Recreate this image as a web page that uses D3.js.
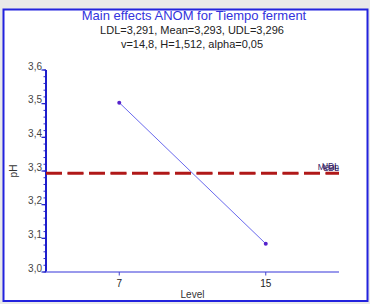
<!DOCTYPE html>
<html>
<head>
<meta charset="utf-8">
<script src="https://cdn.jsdelivr.net/npm/d3@7"></script>
<style>
    html, body { margin: 0; padding: 0; background: #e9e9e9; }
    svg { display: block; }
    text { font-family: "Liberation Sans", Arial, sans-serif; }
</style>
</head>
<body>
<div class="chart"></div>
<script>
// data
const titleLines = [
    'Main effects ANOM for Tiempo ferment',
    'LDL=3,291, Mean=3,293, UDL=3,296',
    'v=14,8, H=1,512, alpha=0,05'
];
const levels = [7, 15];
const means = [3.503, 3.084];
const limitNames = ['LDL', 'Mean', 'UDL'];
const limitValues = [3.291, 3.293, 3.296];
const yTicks = [3.0, 3.1, 3.2, 3.3, 3.4, 3.5, 3.6];
const yMinorTicks = d3.range(3.0, 3.6001, 0.02);
const xTicks = [7, 15];
const xDomain = [3, 19];
const yDomain = [3.0, 3.6];

const width = 370;
const height = 304;
const margin = { top: 70, right: 31, bottom: 32, left: 46 };
const fmt = d => d.toFixed(1).replace('.', ',');

const svg = d3.select('.chart')
    .append('svg')
    .attr('width', width)
    .attr('height', height);

// frame
svg.append('rect')
    .attr('x', 3.5)
    .attr('y', 9.5)
    .attr('width', 364)
    .attr('height', 291.5)
    .attr('fill', '#fff')
    .attr('stroke', '#2222dd')
    .attr('stroke-width', 2);

// titles
svg.append('text')
    .attr('x', 194)
    .attr('y', 20)
    .attr('text-anchor', 'middle')
    .style('font-size', '13px')
    .style('fill', '#3333dd')
    .text(titleLines[0]);

svg.selectAll('.sub')
    .data(titleLines.slice(1))
    .enter().append('text')
    .attr('class', 'sub')
    .attr('x', 192)
    .attr('y', (d, i) => 34 + i * 14)
    .attr('text-anchor', 'middle')
    .style('font-size', '11px')
    .style('fill', '#222')
    .text(d => d);

const x = d3.scaleLinear()
    .domain(xDomain)
    .range([margin.left, width - margin.right]);

const y = d3.scaleLinear()
    .domain(yDomain)
    .range([height - margin.bottom, margin.top]);

// y axis
const yAxis = svg.append('g')
    .attr('transform', `translate(${margin.left},0)`);

yAxis.selectAll('.minor')
    .data(yMinorTicks)
    .enter().append('line')
    .attr('x1', -2.5)
    .attr('x2', 0)
    .attr('y1', d => y(d))
    .attr('y2', d => y(d))
    .attr('stroke', '#3333cc')
    .attr('stroke-width', 1);

yAxis.selectAll('.major')
    .data(yTicks)
    .enter().append('line')
    .attr('x1', -4.5)
    .attr('x2', 0)
    .attr('y1', d => y(d))
    .attr('y2', d => y(d))
    .attr('stroke', '#2222cc')
    .attr('stroke-width', 1.2);

yAxis.selectAll('.lab')
    .data(yTicks)
    .enter().append('text')
    .attr('x', -4)
    .attr('y', d => y(d))
    .attr('dy', '-0.5px')
    .attr('text-anchor', 'end')
    .style('font-size', '10px')
    .style('fill', '#444')
    .text(fmt);

yAxis.append('line')
    .attr('x1', 0)
    .attr('x2', 0)
    .attr('y1', y(yDomain[1]))
    .attr('y2', y(yDomain[0]))
    .attr('stroke', '#1e1ecc')
    .attr('stroke-width', 2);

svg.append('text')
    .attr('transform', `translate(17, ${(y(yDomain[0]) + y(yDomain[1])) / 2}) rotate(-90)`)
    .attr('text-anchor', 'middle')
    .style('font-size', '10px')
    .style('fill', '#333')
    .text('pH');

// x axis
const xAxis = svg.append('g')
    .attr('transform', `translate(0,${y(yDomain[0])})`);

xAxis.append('line')
    .attr('x1', x(xDomain[0]))
    .attr('x2', x(xDomain[1]))
    .attr('stroke', '#7777e6')
    .attr('stroke-width', 1.5);

xAxis.selectAll('.tick')
    .data(xTicks)
    .enter().append('line')
    .attr('x1', d => x(d))
    .attr('x2', d => x(d))
    .attr('y1', 0)
    .attr('y2', 3.5)
    .attr('stroke', '#4444cc');

xAxis.selectAll('.lab')
    .data(xTicks)
    .enter().append('text')
    .attr('x', d => x(d))
    .attr('y', 15)
    .attr('text-anchor', 'middle')
    .style('font-size', '10px')
    .style('fill', '#222')
    .text(d => d);

svg.append('text')
    .attr('x', (x(xDomain[0]) + x(xDomain[1])) / 2)
    .attr('y', 298)
    .attr('text-anchor', 'middle')
    .style('font-size', '10px')
    .style('fill', '#333')
    .text('Level');

// decision limits and centre line
svg.selectAll('.limit')
    .data(limitValues)
    .enter().append('line')
    .attr('class', 'limit')
    .attr('x1', x(xDomain[0]))
    .attr('x2', x(xDomain[1]))
    .attr('y1', d => y(d))
    .attr('y2', d => y(d))
    .attr('stroke', '#b01818')
    .attr('stroke-width', 1.4)
    .attr('stroke-dasharray', '16 5.5');

// labels sit on top of each other at the right end, as in the original
svg.selectAll('.limitLab')
    .data(limitNames)
    .enter().append('text')
    .attr('x', x(xDomain[1]))
    .attr('y', (d, i) => y(limitValues[i]) - 3)
    .attr('text-anchor', 'end')
    .style('font-size', '8.5px')
    .style('fill', '#332266')
    .text(d => d);

// means
const pts = levels.map((l, i) => ({ level: l, mean: means[i] }));

svg.append('path')
    .datum(pts)
    .attr('fill', 'none')
    .attr('stroke', '#6a6aee')
    .attr('stroke-width', 1)
    .attr('d', d3.line().x(d => x(d.level)).y(d => y(d.mean)));

svg.selectAll('.pt')
    .data(pts)
    .enter().append('circle')
    .attr('cx', d => x(d.level))
    .attr('cy', d => y(d.mean))
    .attr('r', 2)
    .attr('fill', '#5522cc');
</script>
</body>
</html>
